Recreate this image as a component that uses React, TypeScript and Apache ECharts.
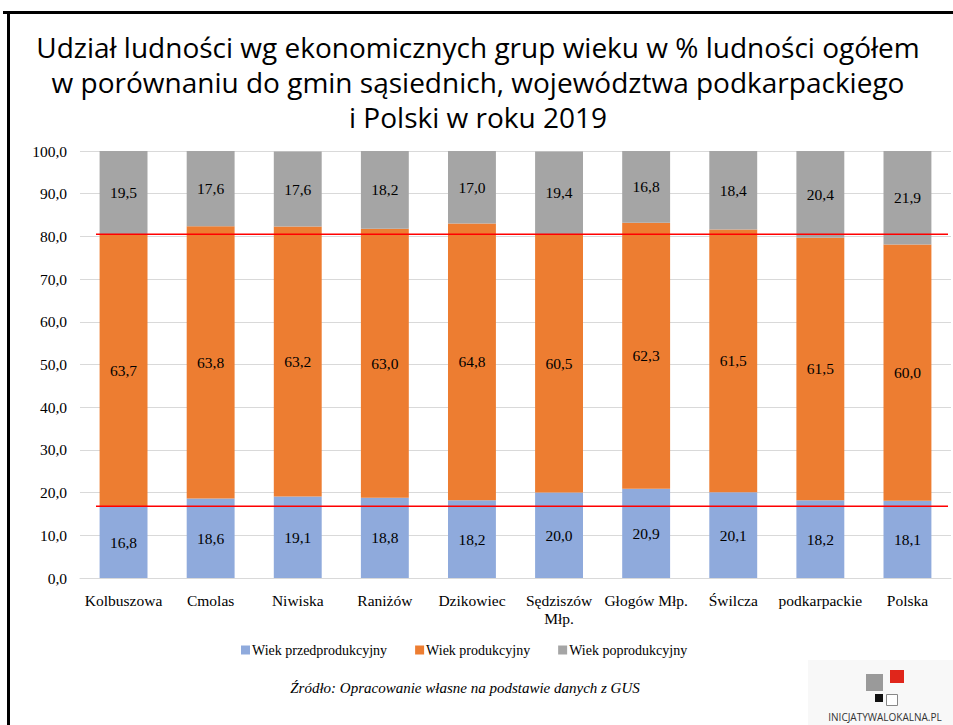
import React, { useEffect, useRef } from "react";
import * as echarts from "echarts";

const categories = ["Kolbuszowa", "Cmolas", "Niwiska", "Raniżów", "Dzikowiec", "Sędziszów\nMłp.", "Głogów Młp.", "Świlcza", "podkarpackie", "Polska"];
const przed = [16.8, 18.6, 19.1, 18.8, 18.2, 20.0, 20.9, 20.1, 18.2, 18.1];
const prod = [63.7, 63.8, 63.2, 63.0, 64.8, 60.5, 62.3, 61.5, 61.5, 60.0];
const po = [19.5, 17.6, 17.6, 18.2, 17.0, 19.4, 16.8, 18.4, 20.4, 21.9];
const seriesNames = ["Wiek przedprodukcyjny", "Wiek produkcyjny", "Wiek poprodukcyjny"];
const refLines = [80.5, 16.8];
const yTicks = { min: 0, max: 100, interval: 10 };
const titleLines = [
  "Udział ludności wg ekonomicznych grup wieku w % ludności ogółem",
  "w porównaniu do gmin sąsiednich, województwa podkarpackiego",
  "i Polski w roku 2019",
];

const SERIF = "Liberation Serif";
const colors = ["#8faadc", "#ed7d31", "#a5a5a5"];

export default function App() {
  const ref = useRef<HTMLDivElement>(null);
  useEffect(() => {
    document.body.style.margin = "0";
    const chart = echarts.init(ref.current!, undefined, { renderer: "svg" });
    const fmt = (p: any) => Number(p.value).toFixed(1).replace(".", ",");
    const mk = (name: string, data: number[], i: number) => ({
      name,
      type: "bar",
      stack: "total",
      data,
      barCategoryGap: "45%",
      itemStyle: { color: colors[i] },
      label: { show: true, position: "inside", formatter: fmt, color: "#000", fontFamily: SERIF, fontSize: 15.5 },
      emphasis: { disabled: true },
    });
    chart.setOption({
      animation: false,
      grid: { left: 80, right: 2, top: 151, bottom: 147, containLabel: false },
      legend: {
        data: seriesNames,
        top: 638,
        left: 236,
        itemWidth: 9,
        itemHeight: 9,
        itemGap: 28,
        icon: "rect",
        textStyle: { fontFamily: SERIF, fontSize: 14, color: "#000", padding: [0, 0, 0, -3] },
      },
      xAxis: {
        type: "category",
        data: categories,
        axisTick: { show: false },
        axisLine: { lineStyle: { color: "#d9d9d9" } },
        axisLabel: { fontFamily: SERIF, fontSize: 15.5, color: "#000", margin: 13, lineHeight: 18, interval: 0 },
      },
      yAxis: {
        type: "value",
        min: yTicks.min,
        max: yTicks.max,
        interval: yTicks.interval,
        axisLabel: { fontFamily: SERIF, fontSize: 15.5, color: "#000", margin: 13, formatter: (v: number) => v.toFixed(1).replace(".", ",") },
        splitLine: { lineStyle: { color: "#d9d9d9" } },
        axisLine: { show: false },
      },
      series: [mk(seriesNames[0], przed, 0), mk(seriesNames[1], prod, 1), mk(seriesNames[2], po, 2)],
    });
    const lines = refLines.map((v) => {
      const y = chart.convertToPixel({ gridIndex: 0 }, [0, v])[1];
      return { type: "line", shape: { x1: 96, y1: y, x2: 948, y2: y }, style: { stroke: "#ff0000", lineWidth: 1.3 }, z: 10 };
    });
    const titles = titleLines.map((t, i) => ({
      type: "text", x: 478, y: 47 + i * 35,
      style: { text: t, font: "28px 'Open Sans'", fill: "#000", textAlign: "center", textVerticalAlign: "middle" },
    }));
    chart.setOption({
      graphic: [
        ...lines,
        ...titles,
        { type: "rect", shape: { x: 3, y: 11, width: 950, height: 3 }, style: { fill: "#000" } },
        { type: "rect", shape: { x: 7, y: 11, width: 3, height: 714 }, style: { fill: "#000" } },
        {
          type: "text", x: 465, y: 688,
          style: { text: "Źródło: Opracowanie własne na podstawie danych z GUS", font: "italic 15px 'Liberation Serif'", fill: "#000", textAlign: "center", textVerticalAlign: "middle" },
        },
        { type: "rect", shape: { x: 808, y: 660, width: 145, height: 65 }, style: { fill: "#f8f8f8" } },
        { type: "rect", shape: { x: 866, y: 674, width: 17, height: 17 }, style: { fill: "#9a9a9a" } },
        { type: "rect", shape: { x: 890, y: 670, width: 14, height: 13 }, style: { fill: "#e0261b" } },
        { type: "rect", shape: { x: 875, y: 694, width: 8, height: 8 }, style: { fill: "#111" } },
        { type: "rect", shape: { x: 886.5, y: 694.5, width: 11, height: 11 }, style: { fill: "#fff", stroke: "#888", lineWidth: 1 } },
        {
          type: "text", x: 885, y: 717,
          style: { text: "INICJATYWALOKALNA.PL", font: "10px 'Open Sans'", fill: "#333", textAlign: "center", textVerticalAlign: "middle" },
        },
      ],
    });
    return () => chart.dispose();
  }, []);
  return <div ref={ref} style={{ width: 953, height: 725 }} />;
}
